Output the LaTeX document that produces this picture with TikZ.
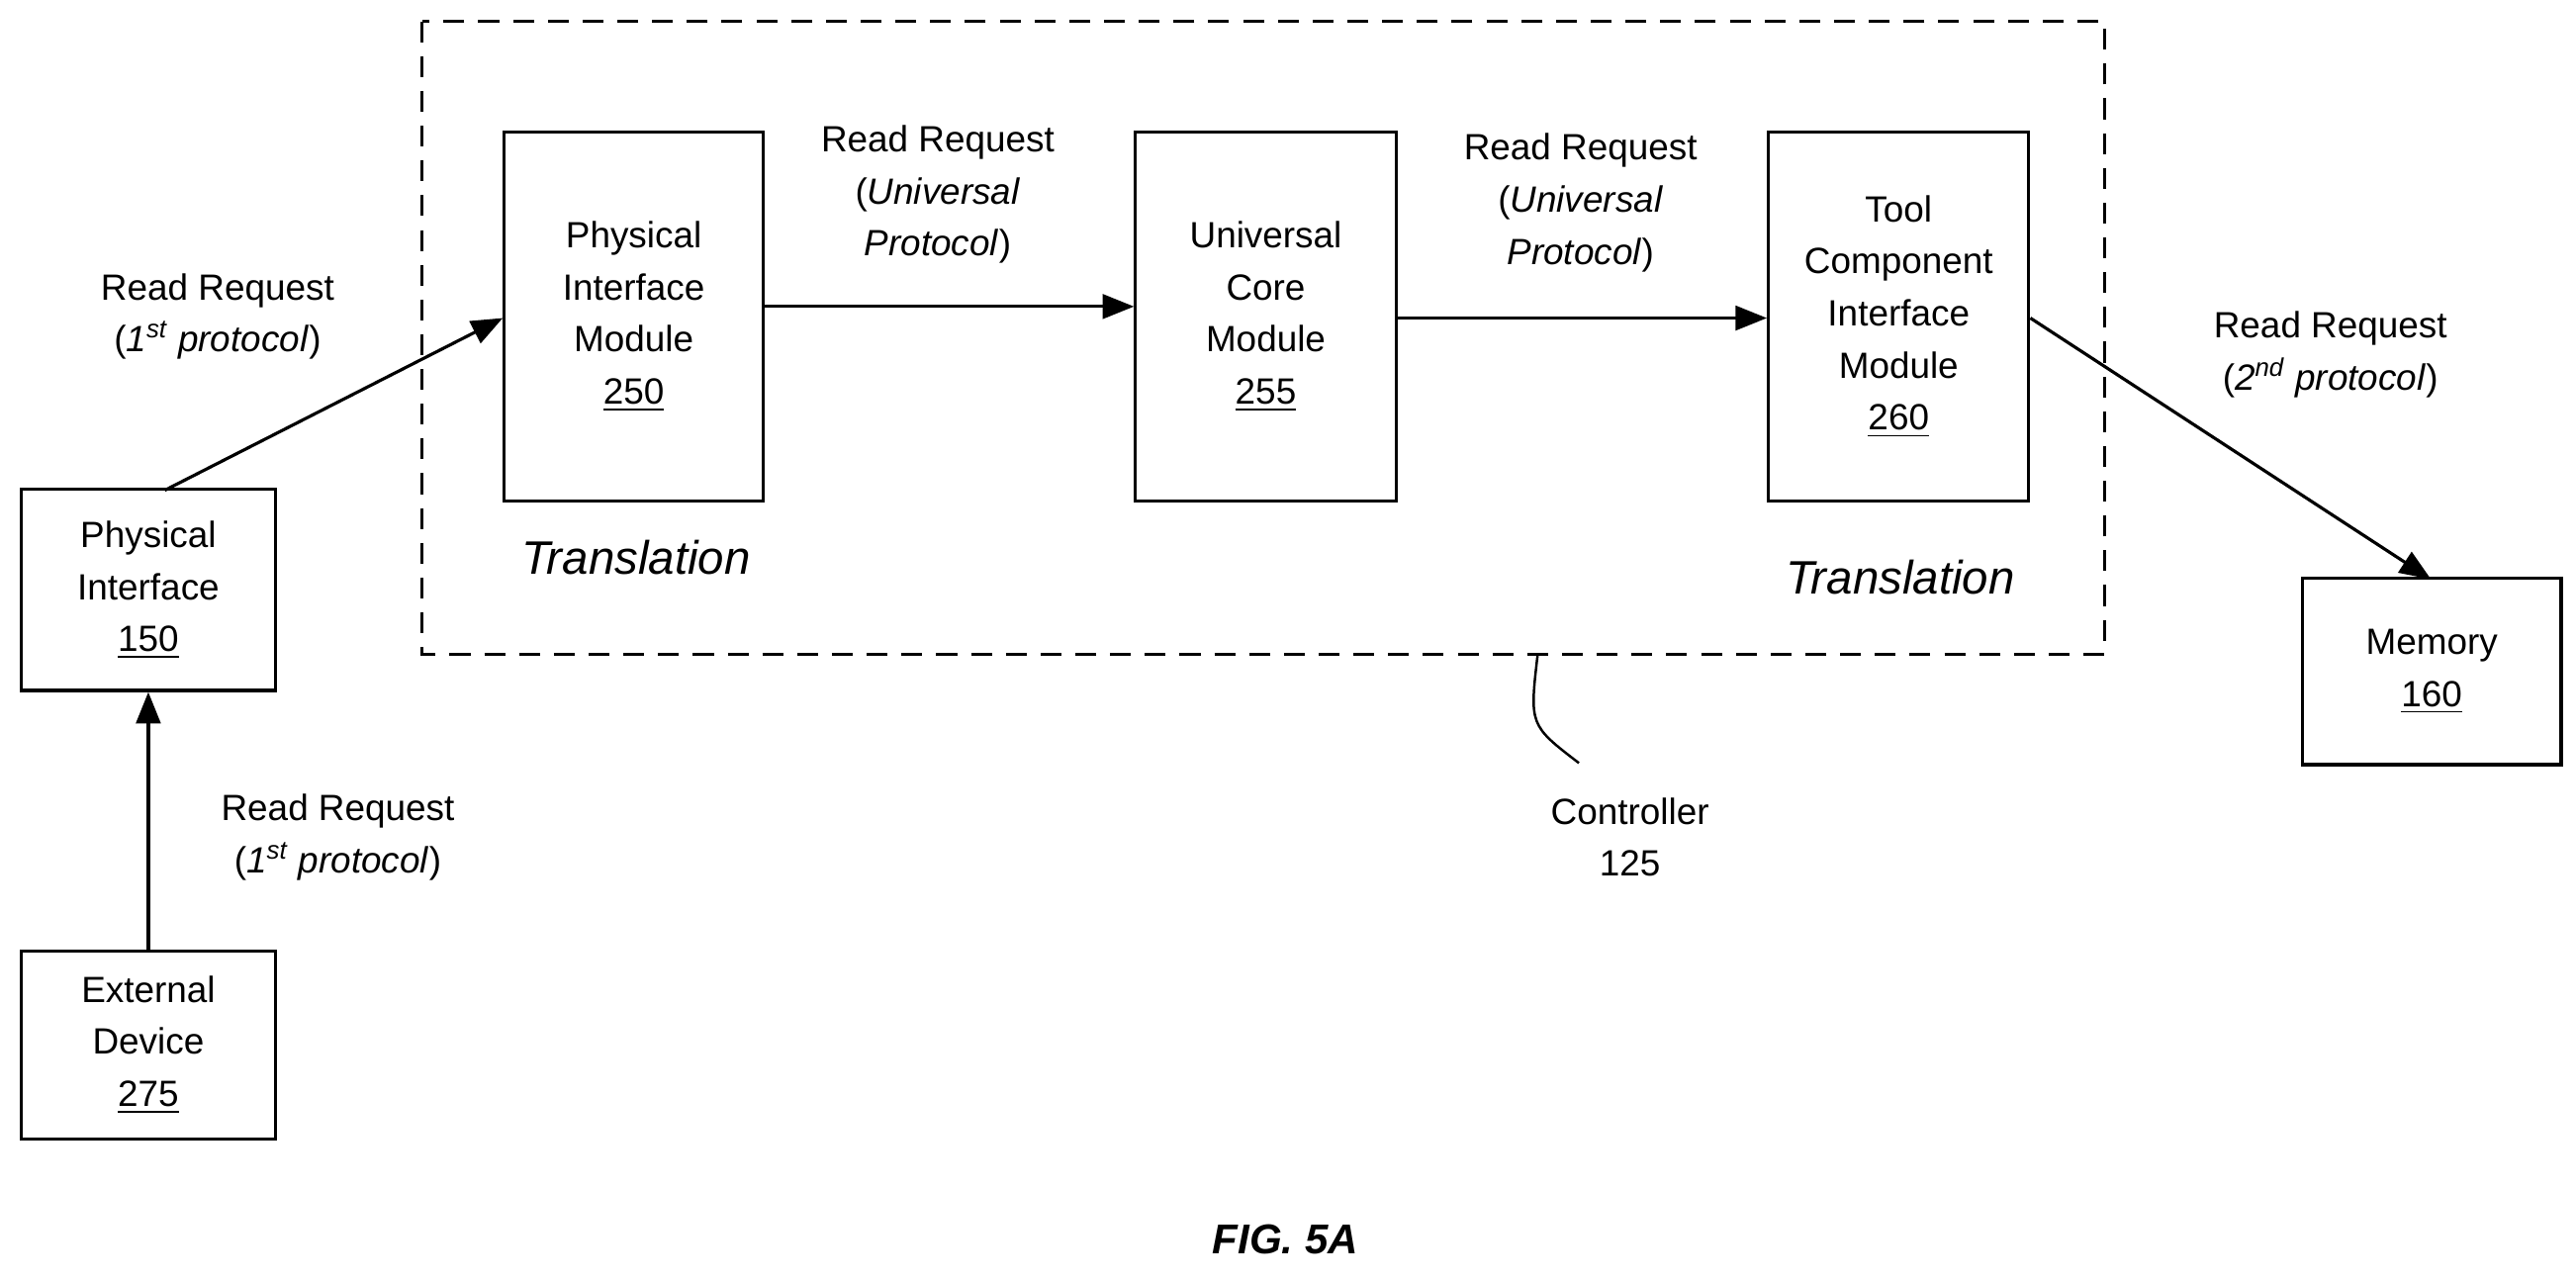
\documentclass[tikz,border=0pt]{standalone}
\usepackage{fontspec}
\setmainfont{Liberation Sans}
\usetikzlibrary{arrows.meta}
\begin{document}
\begin{tikzpicture}[x=0.01666cm,y=-0.01666cm,
  box/.style={draw,line width=0.9pt,inner sep=0pt,align=center,font=\fontsize{10.5}{15}\selectfont},
  lbl/.style={align=center,font=\fontsize{10.5}{15}\selectfont},
  arr/.style={line width=0.9pt,-{Triangle[length=9pt,width=7pt]}},
  tr/.style={font=\fontsize{13.5}{16}\selectfont\itshape}]
\useasboundingbox (0,0) rectangle (1563,777);
\draw[line width=0.9pt,dash pattern=on 6pt off 4pt] (256,13) rectangle (1277,397);
\node[box,minimum width=157*0.01666cm,minimum height=224*0.01666cm] (pim) at (384.5,192) {Physical\\Interface\\Module\\\underline{250}};
\node[box,minimum width=158*0.01666cm,minimum height=224*0.01666cm] (ucm) at (768,192) {Universal\\Core\\Module\\\underline{255}};
\node[box,minimum width=158*0.01666cm,minimum height=224*0.01666cm] (tcim) at (1152,192) {Tool\\Component\\Interface\\Module\\\underline{260}};
\node[box,minimum width=154*0.01666cm,minimum height=122*0.01666cm] (pi) at (90,358) {Physical\\Interface\\\underline{150}};
\node[box,minimum width=154*0.01666cm,minimum height=114*0.01666cm] (ext) at (90,634) {External\\Device\\\underline{275}};
\node[box,minimum width=157*0.01666cm,minimum height=113*0.01666cm] (mem) at (1475.5,407.5) {Memory\\\underline{160}};
\coordinate (a1) at (100,297.5);
\draw[arr] (a1) -- (pim.west|-0,193);
\draw[arr] (pim.east|-0,186) -- (ucm.west|-0,186);
\draw[arr] (ucm.east|-0,193) -- (tcim.west|-0,193);
\draw[arr] (tcim.east|-0,193) -- (1475,351.5);
\draw[arr] (ext.north) -- (pi.south);
\node[lbl] (l1) at (132,192) {Read Request\\(\textit{1\textsuperscript{st} protocol})};
\node[lbl] (l2) at (569,118) {Read Request\\(\textit{Universal}\\\textit{Protocol})};
\node[lbl] (l3) at (959,123) {Read Request\\(\textit{Universal}\\\textit{Protocol})};
\node[lbl] (l4) at (1414,215) {Read Request\\(\textit{2\textsuperscript{nd} protocol})};
\node[lbl] (l5) at (205,508) {Read Request\\(\textit{1\textsuperscript{st} protocol})};
\node[tr] (t1) at (386,338) {Translation};
\node[tr] (t2) at (1153,350) {Translation};
\node[lbl] (ctl) at (989,508) {Controller\\125};
\coordinate (c0) at (933,397);
\coordinate (c1) at (958,463);
\draw[line width=0.7pt] (c0) .. controls (928,440) .. (c1);
\node[font=\fontsize{12}{14}\selectfont\bfseries\itshape] (fig) at (780,752) {FIG. 5A};
\end{tikzpicture}
\end{document}
